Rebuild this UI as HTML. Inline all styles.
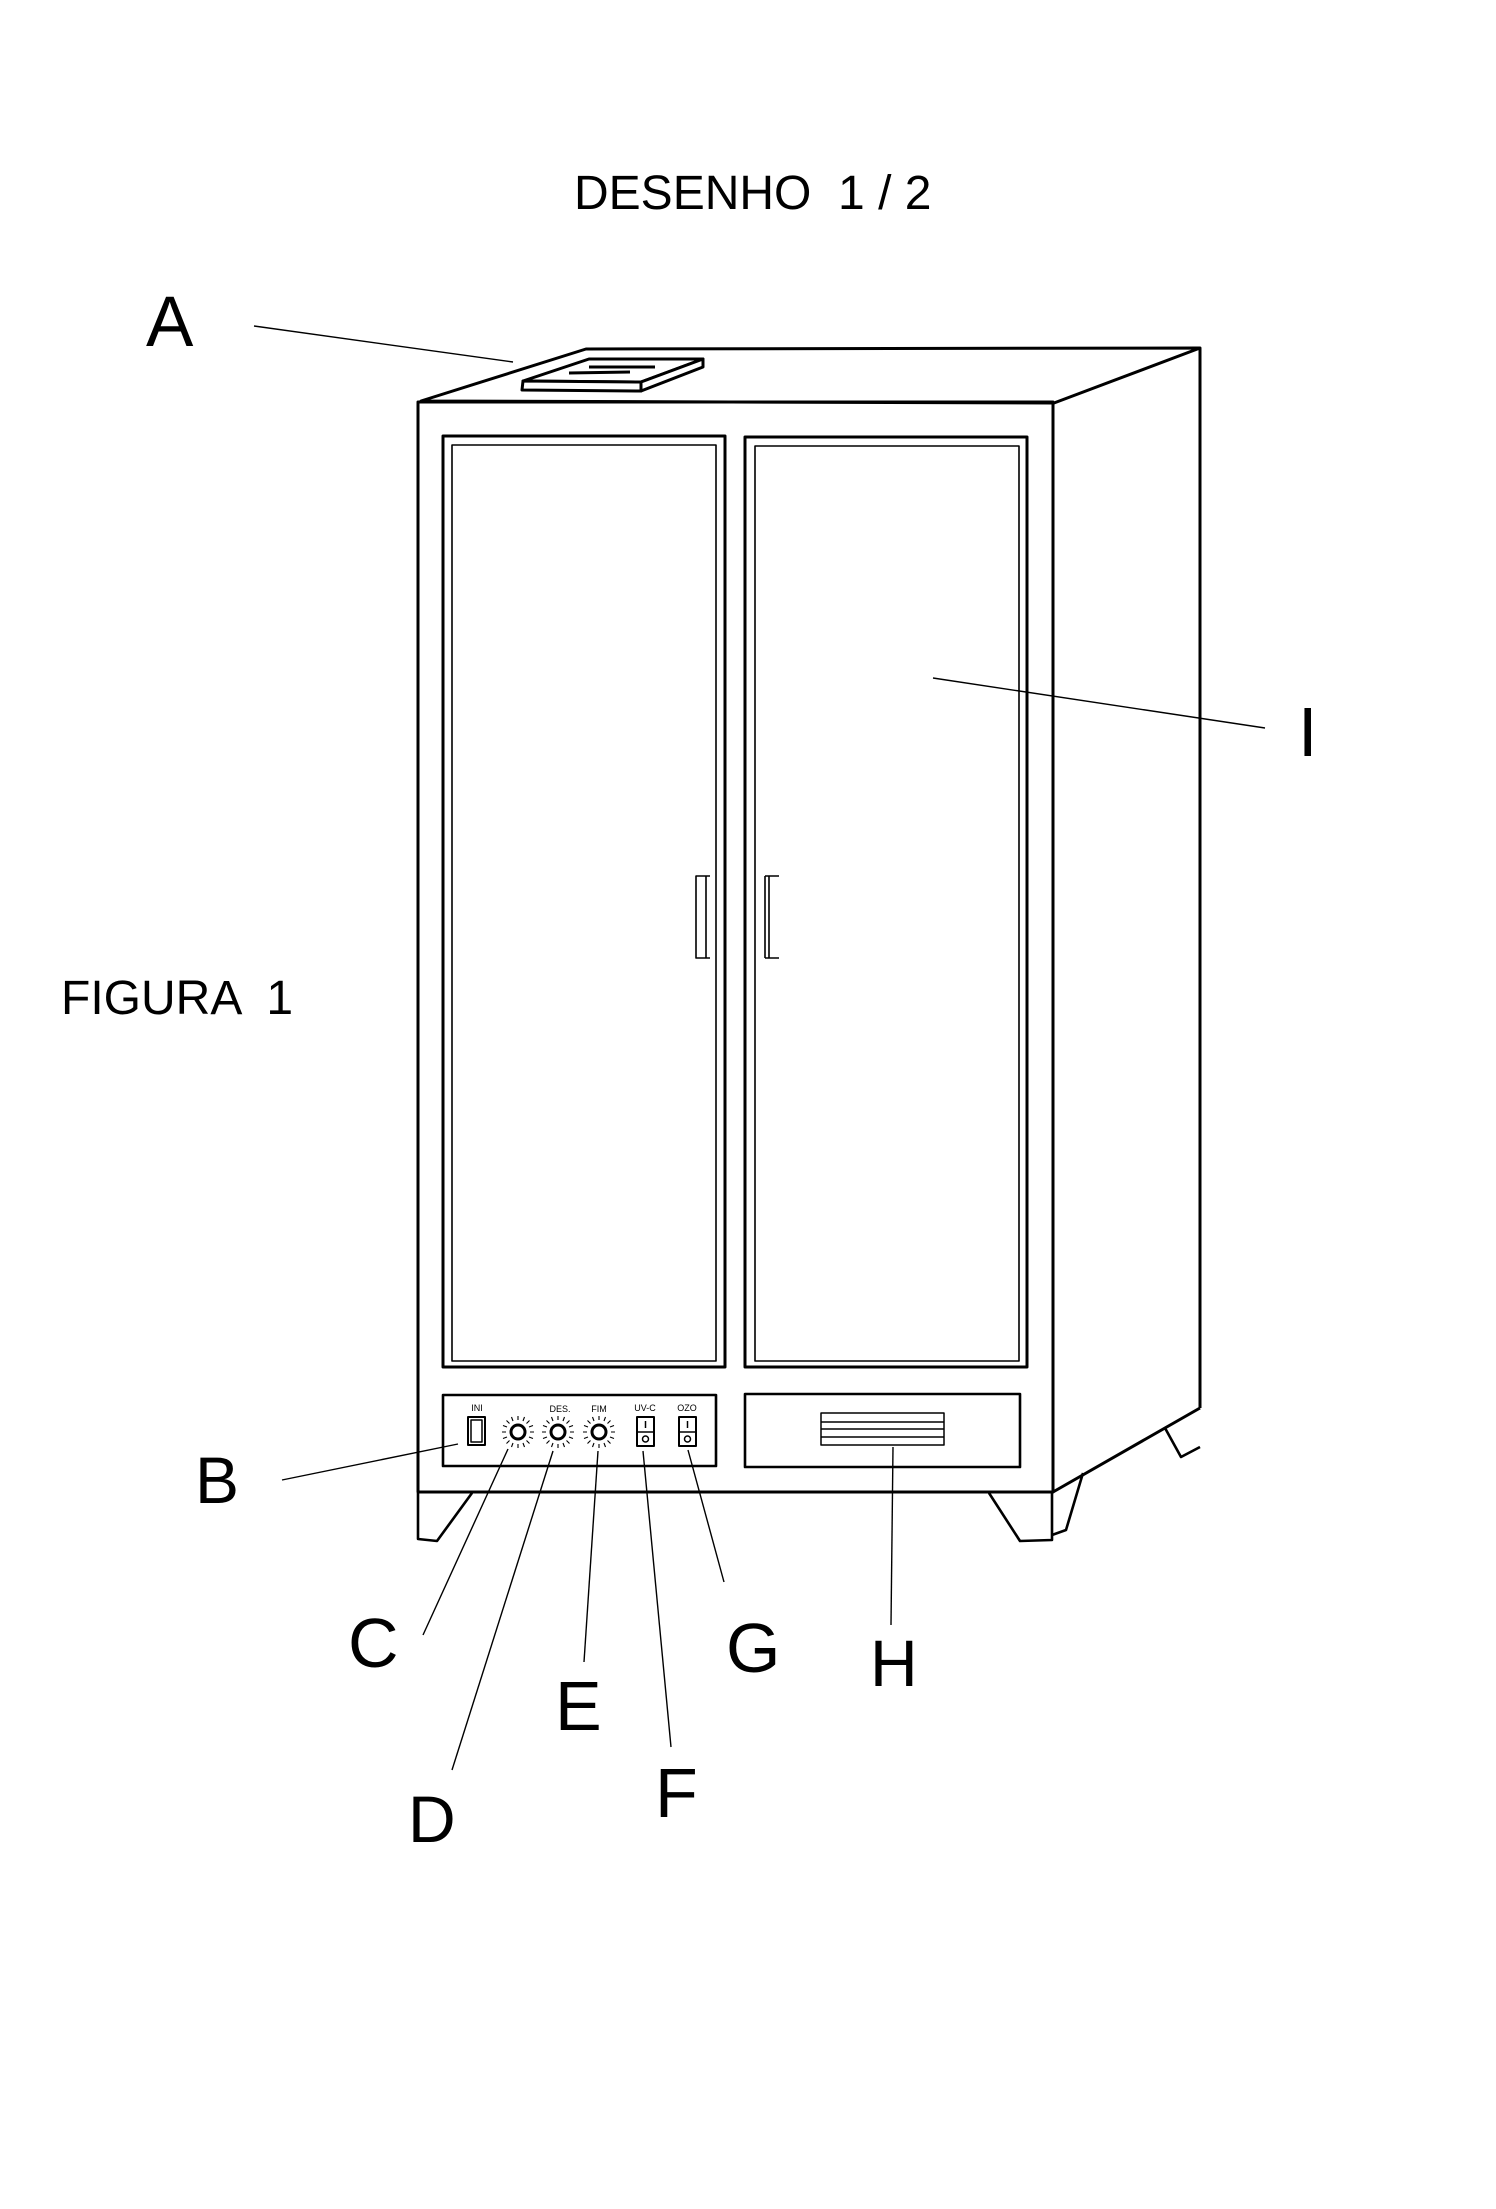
<!DOCTYPE html>
<html><head><meta charset="utf-8"><style>html,body{margin:0;padding:0;background:#fff}svg{display:block}text{white-space:pre}</style></head>
<body>
<svg width="1496" height="2209" viewBox="0 0 1496 2209" xmlns="http://www.w3.org/2000/svg" font-family="Liberation Sans, sans-serif" fill="none" stroke="#000" stroke-linejoin="round">
<g fill="#000" stroke="none">
<text x="574" y="209" font-size="48">DESENHO  1 / 2</text>
<text x="146" y="346" font-size="71">A</text>
<text x="1298" y="756" font-size="70">I</text>
<text x="61" y="1014" font-size="48">FIGURA  1</text>
<text x="195" y="1503" font-size="66">B</text>
<text x="348" y="1667" font-size="70">C</text>
<text x="408" y="1842" font-size="66">D</text>
<text x="555" y="1730" font-size="70">E</text>
<text x="655" y="1817" font-size="70">F</text>
<text x="726" y="1672" font-size="70">G</text>
<text x="870" y="1686" font-size="66">H</text>
<text x="477" y="1411" font-size="9" text-anchor="middle">INI</text>
<text x="560" y="1412" font-size="9" text-anchor="middle">DES.</text>
<text x="599" y="1412" font-size="9" text-anchor="middle">FIM</text>
<text x="645" y="1411" font-size="9" text-anchor="middle">UV-C</text>
<text x="687" y="1411" font-size="9" text-anchor="middle">OZO</text>
</g>
<g stroke-width="1.4">
<line x1="254" y1="326" x2="513" y2="362"/>
<line x1="933" y1="678" x2="1265" y2="728"/>
<line x1="282" y1="1480" x2="458" y2="1444"/>
<line x1="508" y1="1449" x2="423" y2="1635"/>
<line x1="553" y1="1451" x2="452" y2="1770"/>
<line x1="598" y1="1451" x2="584" y2="1662"/>
<line x1="643" y1="1451" x2="671" y2="1747"/>
<line x1="688" y1="1450" x2="724" y2="1582"/>
<line x1="893" y1="1447" x2="891" y2="1625"/>
</g>
<g stroke-width="3">
<polygon points="421,401 586,349 1200,348 1054,403"/>
<rect x="418" y="402" width="635" height="1090"/>
<line x1="1200" y1="348" x2="1200" y2="1408"/>
<line x1="1053" y1="1492" x2="1200" y2="1408"/>
<polygon points="523,381 589,359 703,359 641,382" fill="#fff"/>
<polygon points="523,381 641,382 641,391 522,390" fill="#fff"/>
<polygon points="641,382 703,359 703,367 641,391" fill="#fff"/>
<line x1="589" y1="367" x2="655" y2="367"/>
<line x1="569" y1="373" x2="630" y2="372"/>
<rect x="443" y="436" width="282" height="931"/>
<rect x="745" y="437" width="282" height="930"/>
</g>
<g stroke-width="1.6">
<rect x="452" y="445" width="264" height="916"/>
<rect x="755" y="446" width="264" height="915"/>
<path d="M710,876 h-14 v82 h14 M706,876 v82"/>
<path d="M765,876 h14 M765,958 h14 M765,876 v82 M769,876 v82"/>
</g>
<g stroke-width="2.6">
<rect x="443" y="1395" width="273" height="71"/>
<rect x="745" y="1394" width="275" height="73"/>
<polyline points="418,1493 418,1539 437,1541 472,1493"/>
<polyline points="989,1493 1020,1541 1052,1540 1052,1493"/>
<polyline points="1083,1473 1066,1530 1052,1535"/>
<polyline points="1165,1428 1181,1457 1200,1447"/>
</g>
<g stroke-width="1.5">
<rect x="468" y="1417" width="17" height="28" stroke-width="2"/>
<rect x="471" y="1420" width="11" height="22"/>
<rect x="637" y="1417" width="17" height="29" stroke-width="2"/>
<line x1="637" y1="1432" x2="654" y2="1432"/>
<line x1="645.5" y1="1421" x2="645.5" y2="1428"/>
<circle cx="645.5" cy="1439" r="3"/>
<rect x="679" y="1417" width="17" height="29" stroke-width="2"/>
<line x1="679" y1="1432" x2="696" y2="1432"/>
<line x1="687.5" y1="1421" x2="687.5" y2="1428"/>
<circle cx="687.5" cy="1439" r="3"/>
<rect x="821" y="1413" width="123" height="32"/>
<line x1="821" y1="1422" x2="944" y2="1422"/>
<line x1="821" y1="1429" x2="944" y2="1429"/>
<line x1="821" y1="1437" x2="944" y2="1437"/>
</g>
<g stroke-width="3">
<circle cx="518" cy="1432" r="7"/>
<circle cx="558" cy="1432" r="7"/>
<circle cx="599" cy="1432" r="7"/>
</g>
<g stroke-width="1.1">
<path d="M518,1420v-4M518,1444v4M506,1432h-4M530,1432h4M509.5,1423.5l-3,-3M526.5,1440.5l3,3M526.5,1423.5l3,-3M509.5,1440.5l-3,3M513,1421l-1.5,-4M523,1443l1.5,4M523,1421l1.5,-4M513,1443l-1.5,4M507,1427l-4,-1.5M529,1437l4,1.5M529,1427l4,-1.5M507,1437l-4,1.5"/>
<path transform="translate(40,0)" d="M518,1420v-4M518,1444v4M506,1432h-4M530,1432h4M509.5,1423.5l-3,-3M526.5,1440.5l3,3M526.5,1423.5l3,-3M509.5,1440.5l-3,3M513,1421l-1.5,-4M523,1443l1.5,4M523,1421l1.5,-4M513,1443l-1.5,4M507,1427l-4,-1.5M529,1437l4,1.5M529,1427l4,-1.5M507,1437l-4,1.5"/>
<path transform="translate(81,0)" d="M518,1420v-4M518,1444v4M506,1432h-4M530,1432h4M509.5,1423.5l-3,-3M526.5,1440.5l3,3M526.5,1423.5l3,-3M509.5,1440.5l-3,3M513,1421l-1.5,-4M523,1443l1.5,4M523,1421l1.5,-4M513,1443l-1.5,4M507,1427l-4,-1.5M529,1437l4,1.5M529,1427l4,-1.5M507,1437l-4,1.5"/>
</g>
</svg>
</body></html>
